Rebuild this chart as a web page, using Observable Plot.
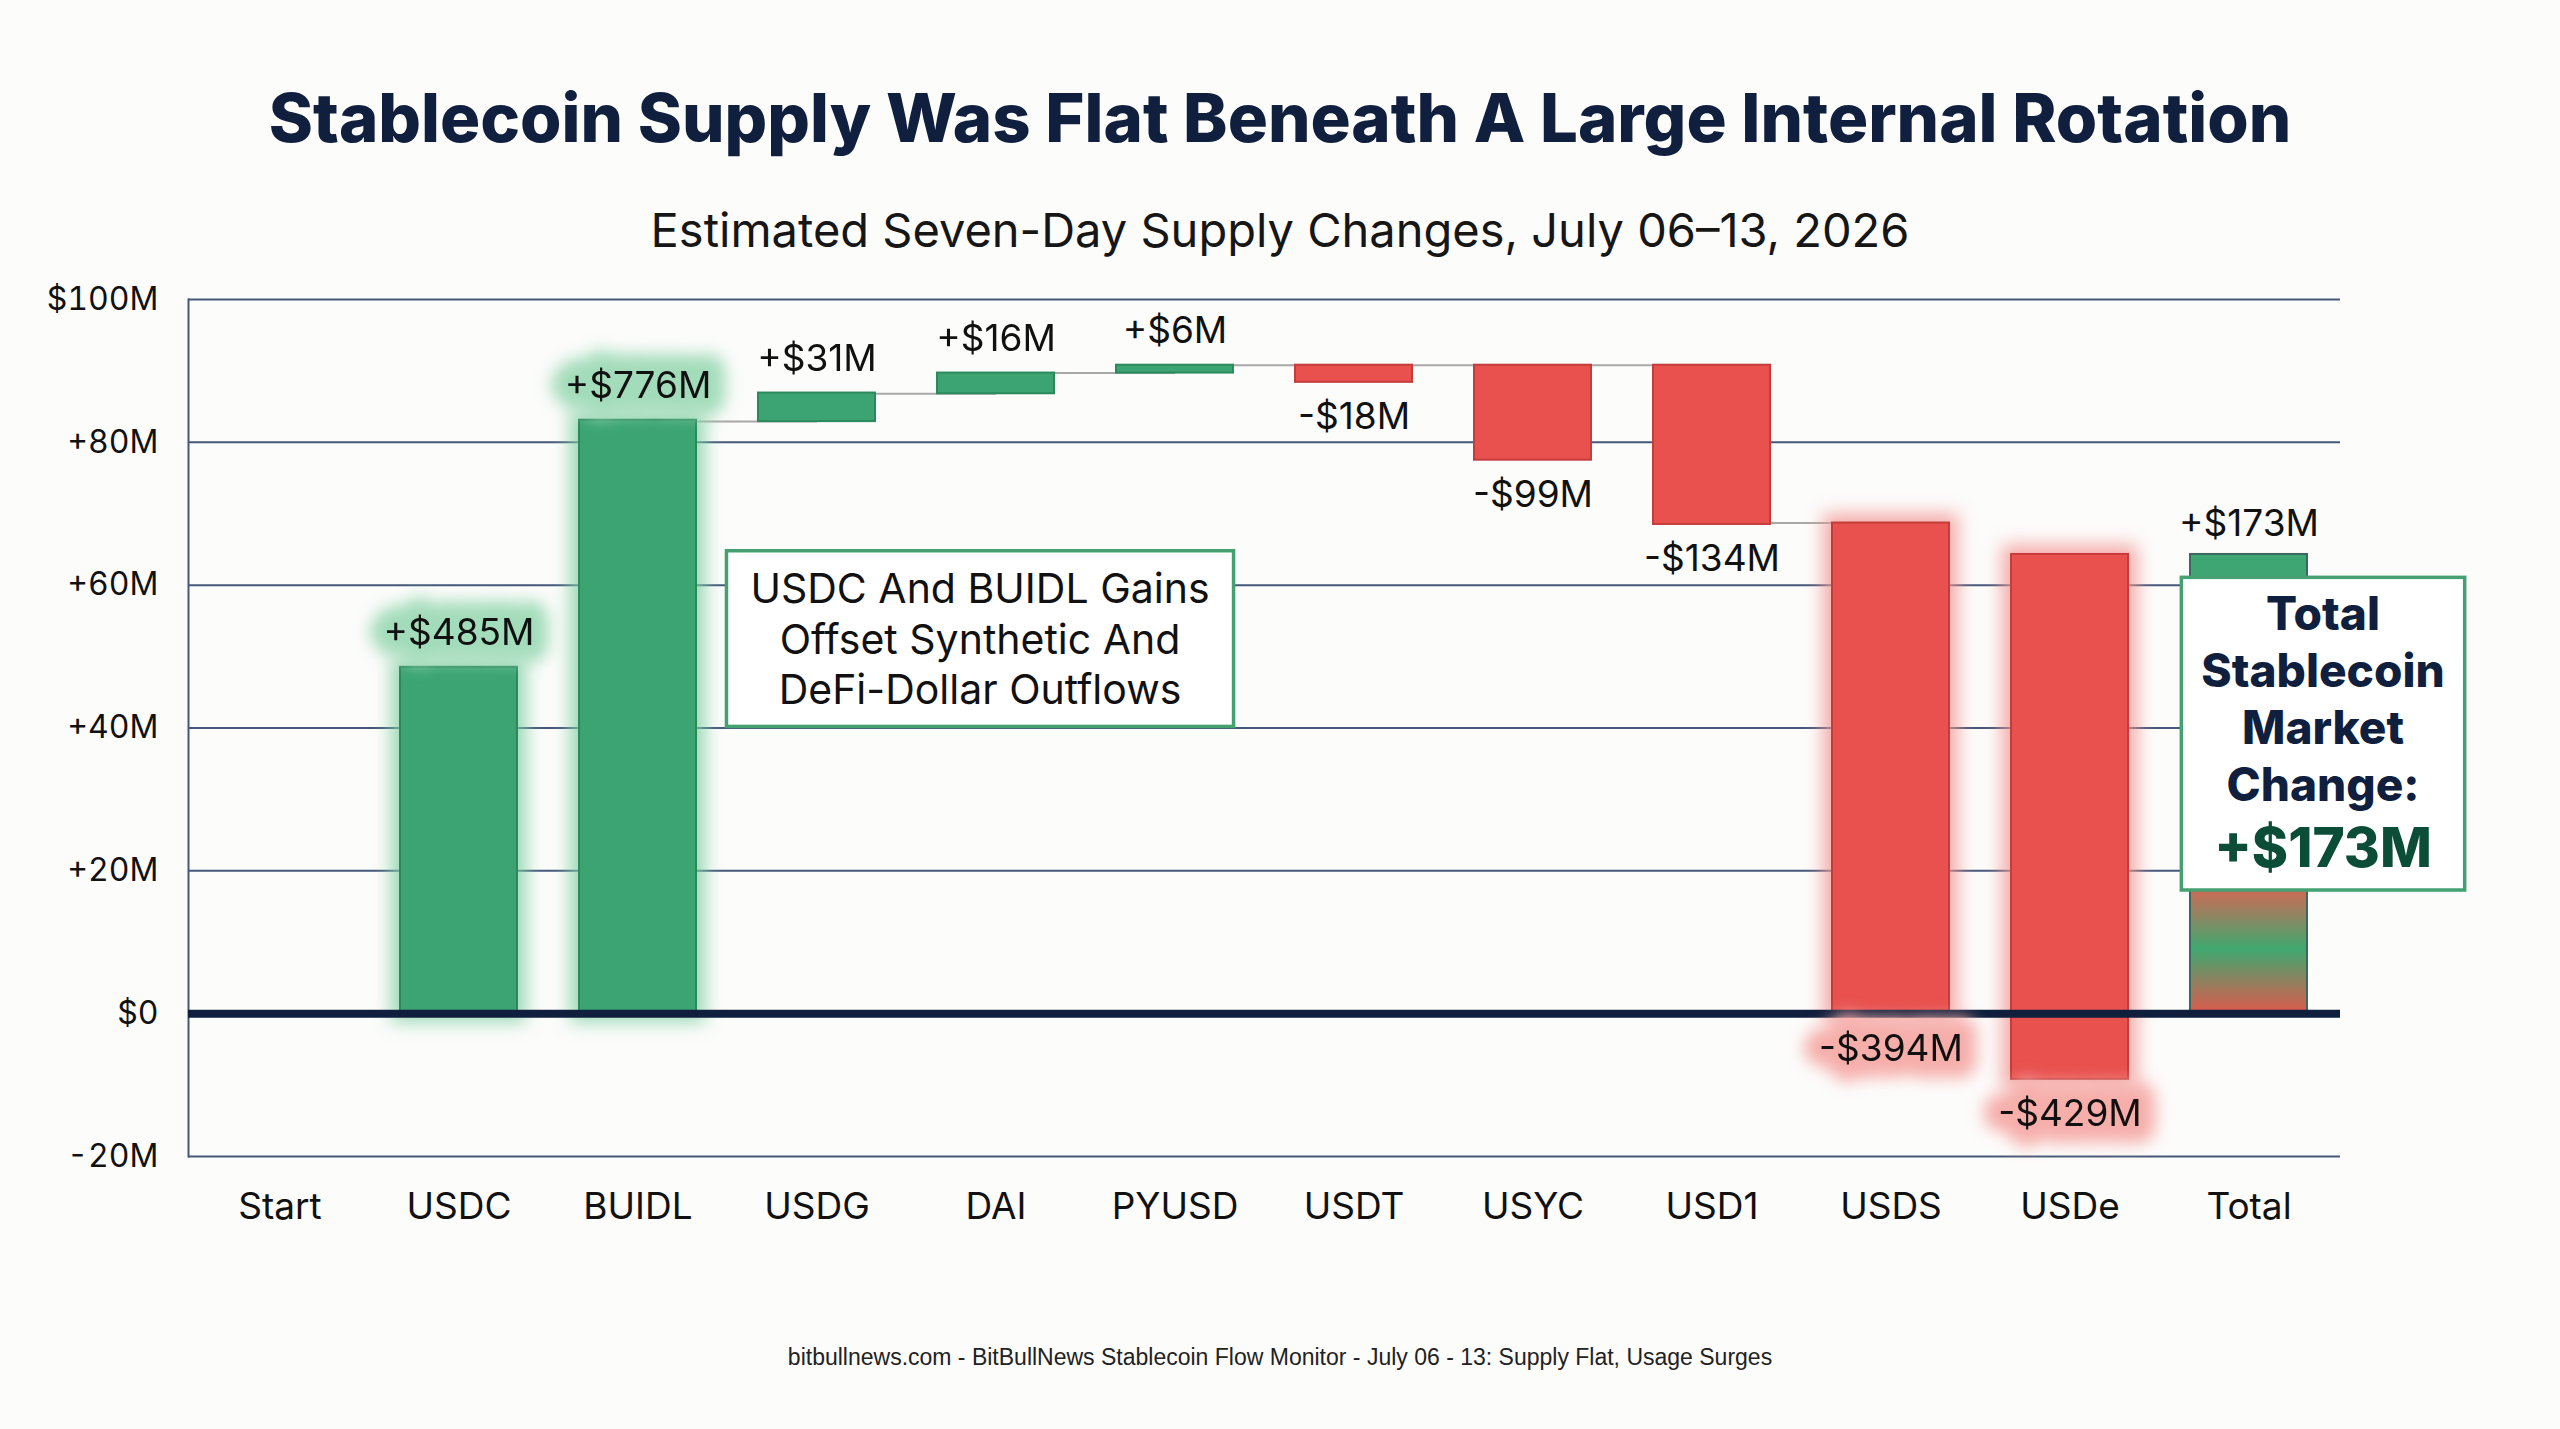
<!DOCTYPE html>
<html><head><meta charset="utf-8">
<script src="https://cdn.jsdelivr.net/npm/d3@7"></script>
<script src="https://cdn.jsdelivr.net/npm/@observablehq/plot@0.6"></script>
<style>
html,body{margin:0;padding:0;background:#fcfcfb;}
#wrap{position:relative;width:2560px;height:1429px;overflow:hidden;background:#fcfcfb;}
.t{position:absolute;left:0;width:2560px;text-align:center;white-space:nowrap;line-height:1;}
#title{font-family:Inter,sans-serif;font-weight:800;font-size:67px;color:#0f1f3d;top:84px;}
#subtitle{font-family:Inter,sans-serif;font-weight:400;font-size:47px;color:#161616;top:206px;}
#caption{font-family:"Liberation Sans",Arial,sans-serif;font-size:23px;color:#222;top:1346px;}
#chart{position:absolute;left:0;top:260px;}
</style></head>
<body>
<div id="wrap">
  <div class="t" id="title"></div>
  <div class="t" id="subtitle"></div>
  <div id="chart"></div>
  <div class="t" id="caption"></div>
</div>
<script>
// ---- data ----
const titleText = "Stablecoin Supply Was Flat Beneath A Large Internal Rotation";
const subtitleText = "Estimated Seven-Day Supply Changes, July 06\u201313, 2026";
const captionText = "bitbullnews.com - BitBullNews Stablecoin Flow Monitor - July 06 - 13: Supply Flat, Usage Surges";

const categories = ["Start","USDC","BUIDL","USDG","DAI","PYUSD","USDT","USYC","USD1","USDS","USDe","Total"];
const direction  = ["start","up","up","up","up","up","down","down","down","down","down","total"];
const barLow     = [null, 0, 0, 82.9, 86.8, 89.7, 88.4, 77.5, 68.5, 0, -9.2, 0];
const barHigh    = [null, 48.5, 83.1, 86.9, 89.7, 90.8, 90.8, 90.8, 90.8, 68.7, 64.3, 64.3];
const valueLabels = ["", "+$485M", "+$776M", "+$31M", "+$16M", "+$6M", "-$18M", "-$99M", "-$134M", "-$394M", "-$429M", "+$173M"];
const connectedTo = ["USDG","DAI","PYUSD","USDT","USYC","USD1","USDS"];
const highlighted = ["USDC","BUIDL","USDS","USDe"];

const yTicks = [-20, 0, 20, 40, 60, 80, 100];
const yTickLabels = ["-20M", "$0", "+20M", "+40M", "+60M", "+80M", "$100M"];

const noteText = "USDC And BUIDL Gains\nOffset Synthetic And\nDeFi-Dollar Outflows";
const noteAnchorX = "DAI", noteAnchorY = 52.7;
const totalNoteText = "Total\nStablecoin\nMarket\nChange:";
const totalNoteValue = "+$173M";
const totalNoteY = 44.25, totalNoteValueY = 23.0;

// ---- derived table ----
const bars = categories.map((name, i) => ({name, dir: direction[i], low: barLow[i], high: barHigh[i], label: valueLabels[i], hi: highlighted.includes(name)}))
  .filter(d => d.low != null);
const byName = new Map(bars.map(d => [d.name, d]));
const startLevel = d => d.dir === "up" ? d.low : d.high;
const links = connectedTo.map(name => {
  const i = categories.indexOf(name);
  return {from: categories[i - 1], to: name, level: startLevel(byName.get(name))};
});

document.getElementById("title").textContent = titleText;
document.getElementById("subtitle").textContent = subtitleText;
document.getElementById("caption").textContent = captionText;

const GREEN = "#3ca473", GREEN_S = "#2b8a5c", RED = "#e8514e", RED_S = "#c43c3b";

const chart = Plot.plot({
  width: 2560, height: 1000,
  marginTop: 39, marginBottom: 104, marginLeft: 188, marginRight: 220,
  style: {background: "transparent", fontFamily: "Inter, sans-serif", fontSize: "37px", color: "#111", overflow: "visible"},
  x: {domain: categories, paddingInner: 0.345, paddingOuter: 0.1725},
  y: {domain: [-20, 100]},
  marks: [
    Plot.ruleY(yTicks, {stroke: "#46587a", strokeWidth: 2}),
    Plot.frame({anchor: "left", stroke: "#46587a", strokeWidth: 2}),
    Plot.axisY({ticks: yTicks, tickFormat: d => yTickLabels[yTicks.indexOf(d)], tickSize: 0, tickPadding: 30, fontSize: 32, label: null, fill: "#111"}),
    Plot.axisX({tickSize: 0, tickPadding: 36, fontSize: 37, label: null, fill: "#111"}),
    Plot.link(links, {x1: "from", x2: "to", y1: "level", y2: "level", stroke: "#a8a8a8", strokeWidth: 2}),
    // glows
    Plot.barY(bars.filter(d => d.hi && d.dir === "up"), {x: "name", y1: "low", y2: "high", fill: "#7fd0a2", fillOpacity: 0.8, inset: -9, className: "glowbar"}),
    Plot.barY(bars.filter(d => d.hi && d.dir === "down"), {x: "name", y1: "low", y2: "high", fill: "#f39692", fillOpacity: 0.8, inset: -9, className: "glowbar"}),
    // bars
    Plot.barY(bars.filter(d => d.dir === "up"), {x: "name", y1: "low", y2: "high", fill: GREEN, stroke: GREEN_S, strokeWidth: 2}),
    Plot.barY(bars.filter(d => d.dir === "down"), {x: "name", y1: "low", y2: "high", fill: RED, stroke: RED_S, strokeWidth: 2}),
    Plot.barY(bars.filter(d => d.dir === "total"), {x: "name", y1: "low", y2: "high", fill: GREEN, stroke: "#3d6660", strokeWidth: 2, className: "totalbar"}),
    Plot.ruleY([0], {stroke: "#0f1f3d", strokeWidth: 8}),
    // label glows
    Plot.text(bars.filter(d => d.hi && d.dir === "up"), {x: "name", y: "high", dy: -34, text: "label", fontSize: 37, fill: "#a3dcba", stroke: "#a3dcba", strokeWidth: 34, className: "glowtext"}),
    Plot.text(bars.filter(d => d.hi && d.dir === "down"), {x: "name", y: "low", dy: 35, text: "label", fontSize: 37, fill: "#f6aeaa", stroke: "#f6aeaa", strokeWidth: 34, className: "glowtext"}),
    // labels
    Plot.text(bars.filter(d => d.dir === "up"), {x: "name", y: "high", dy: -34, text: "label", fontSize: 37, fill: "#111"}),
    Plot.text(bars.filter(d => d.dir === "down"), {x: "name", y: "low", dy: 35, text: "label", fontSize: 37, fill: "#111"}),
    Plot.text(bars.filter(d => d.dir === "total"), {x: "name", y: "high", dy: -30, text: "label", fontSize: 37, fill: "#111"}),
    // annotations
    Plot.text([{x: noteAnchorX, y: noteAnchorY, t: noteText}], {x: "x", y: "y", text: "t", dx: -16, fontSize: 41, lineHeight: 1.24, fill: "#111", className: "note1"}),
    Plot.text([{x: "Total", y: totalNoteY, t: totalNoteText}], {x: "x", y: "y", text: "t", dx: 74, fontSize: 46, fontWeight: 800, lineHeight: 1.24, fill: "#0f1f3d", className: "note2a"}),
    Plot.text([{x: "Total", y: totalNoteValueY, t: totalNoteValue}], {x: "x", y: "y", text: "t", dx: 74, fontSize: 55, fontWeight: 800, fill: "#0b4d37", className: "note2b"})
  ]
});
document.getElementById("chart").appendChild(chart);

// ---- styling post-process: defs, glow filters, gradient, annotation boxes ----
const s = d3.select(chart);
const defs = s.insert("defs", ":first-child");
const mkBlur = (id, sd) => defs.append("filter").attr("id", id).attr("x", "-60%").attr("y", "-60%").attr("width", "220%").attr("height", "220%")
  .append("feGaussianBlur").attr("stdDeviation", sd);
mkBlur("blurBar", 9); mkBlur("blurText", 8);
const g = defs.append("linearGradient").attr("id", "totalGrad").attr("x1", 0).attr("y1", 0).attr("x2", 0).attr("y2", 1);
[[0, "#3ea673"], [0.55, "#3ea673"], [0.73, "#cf6a56"], [0.86, "#3fa86f"], [1, "#df594d"]]
  .forEach(([o, c]) => g.append("stop").attr("offset", o).attr("stop-color", c));
s.selectAll("g.glowbar").attr("filter", "url(#blurBar)");
s.selectAll("g.glowtext").attr("filter", "url(#blurText)");
s.selectAll("g.totalbar rect").attr("fill", "url(#totalGrad)");

function boxAround(classes, padX, padTop, padBottom) {
  const nodes = classes.map(c => chart.querySelector("g." + c)).filter(n => n);
  if (!nodes.length) return;
  const root = chart.getBoundingClientRect();
  let x0 = Infinity, y0 = Infinity, x1 = -Infinity, y1 = -Infinity;
  nodes.forEach(n => {
    const b = n.getBoundingClientRect();
    x0 = Math.min(x0, b.left - root.left); y0 = Math.min(y0, b.top - root.top);
    x1 = Math.max(x1, b.right - root.left); y1 = Math.max(y1, b.bottom - root.top);
  });
  d3.select(nodes[0].parentNode).insert("rect", () => nodes[0])
    .attr("x", x0 - padX).attr("y", y0 - padTop).attr("width", x1 - x0 + 2 * padX).attr("height", y1 - y0 + padTop + padBottom)
    .attr("fill", "#ffffff").attr("stroke", "#45a072").attr("stroke-width", 3.5);
}
boxAround(["note1"], 24, 12, 12);
boxAround(["note2a", "note2b"], 20, 8, 10);
</script>
</body></html>
